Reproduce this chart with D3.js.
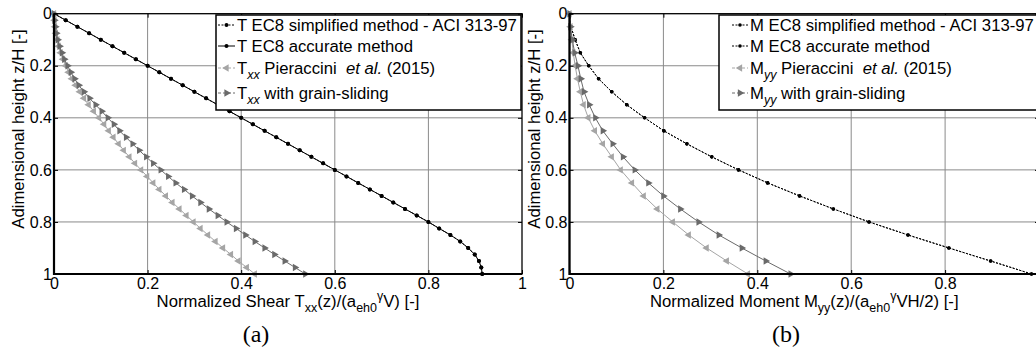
<!DOCTYPE html>
<html>
<head>
<meta charset="utf-8">
<script src="https://cdn.jsdelivr.net/npm/d3@7"></script>
<style>
  body { margin: 0; background: #fff; }
  svg { display: block; font-family: "Liberation Sans", Arial, sans-serif; }
</style>
</head>
<body>
<svg id="chart" width="1036" height="350"></svg>
<script>
// heights z/H, shear panel (markers every 0.025)
const zT = [0, 0.025, 0.05, 0.075, 0.1, 0.125, 0.15, 0.175, 0.2, 0.225, 0.25, 0.275, 0.3, 0.325, 0.35, 0.375,
    0.4, 0.425, 0.45, 0.475, 0.5, 0.525, 0.55, 0.575, 0.6, 0.625, 0.65, 0.675, 0.7, 0.725, 0.75, 0.775,
    0.8, 0.825, 0.85, 0.875, 0.9, 0.925, 0.95, 0.975, 1]

const tSimplified = [0, 0.025, 0.05, 0.075, 0.1, 0.125, 0.15, 0.175, 0.2, 0.225, 0.25, 0.275, 0.3, 0.325, 0.35, 0.375,
    0.4, 0.425, 0.45, 0.475, 0.5, 0.525, 0.55, 0.575, 0.6, 0.625, 0.65, 0.675, 0.7, 0.725, 0.75, 0.775,
    0.8, 0.823, 0.847, 0.868, 0.885, 0.899, 0.908, 0.913, 0.915]
const tAccurate = [0, 0.025, 0.05, 0.075, 0.1, 0.125, 0.15, 0.175, 0.2, 0.225, 0.25, 0.275, 0.3, 0.325, 0.35, 0.375,
    0.4, 0.425, 0.45, 0.475, 0.5, 0.525, 0.55, 0.575, 0.6, 0.625, 0.65, 0.675, 0.7, 0.725, 0.75, 0.775,
    0.8, 0.823, 0.847, 0.868, 0.885, 0.899, 0.908, 0.913, 0.915]
const tPieraccini = [0, 0.001, 0.002, 0.004, 0.007, 0.010, 0.014, 0.019, 0.025, 0.031, 0.038, 0.046, 0.055, 0.064,
    0.074, 0.085, 0.096, 0.107, 0.117, 0.127, 0.138, 0.149, 0.161, 0.173, 0.186, 0.199, 0.212, 0.225, 0.239,
    0.253, 0.268, 0.283, 0.298, 0.313, 0.329, 0.345, 0.361, 0.378, 0.394, 0.412, 0.429]
const tGrain = [0, 0.001, 0.003, 0.005, 0.008, 0.012, 0.017, 0.022, 0.029, 0.036, 0.044, 0.053, 0.064, 0.076,
    0.089, 0.102, 0.115, 0.128, 0.140, 0.154, 0.168, 0.182, 0.197, 0.212, 0.228, 0.244, 0.260, 0.278, 0.295,
    0.313, 0.331, 0.350, 0.369, 0.389, 0.409, 0.429, 0.450, 0.471, 0.493, 0.515, 0.537]

// heights z/H, moment panel (markers every 0.05)
const zM = [0, 0.05, 0.1, 0.15, 0.2, 0.25, 0.3, 0.35, 0.4, 0.45, 0.5, 0.55, 0.6, 0.65, 0.7, 0.75, 0.8, 0.85, 0.9, 0.95, 1]
const mSimplified = [0, 0.003, 0.012, 0.023, 0.041, 0.062, 0.090, 0.122, 0.160, 0.201, 0.250, 0.303, 0.360, 0.422,
    0.490, 0.562, 0.638, 0.721, 0.808, 0.897, 0.984]
const mAccurate = [0, 0.003, 0.012, 0.023, 0.041, 0.062, 0.090, 0.122, 0.160, 0.201, 0.250, 0.303, 0.360, 0.422,
    0.490, 0.562, 0.638, 0.721, 0.808, 0.897, 0.984]
const mPieraccini = [0, 0.002, 0.005, 0.008, 0.012, 0.017, 0.023, 0.030, 0.040, 0.054, 0.071, 0.090, 0.109, 0.133,
    0.158, 0.187, 0.220, 0.254, 0.292, 0.335, 0.380]
const mGrain = [0, 0.002, 0.006, 0.011, 0.018, 0.024, 0.031, 0.042, 0.055, 0.071, 0.092, 0.114, 0.139, 0.168,
    0.200, 0.236, 0.275, 0.318, 0.367, 0.418, 0.471]

const xTicks = [0, 0.2, 0.4, 0.6, 0.8, 1]
const yTicks = [0, 0.2, 0.4, 0.6, 0.8, 1]

const BLACK = '#000'
const LIGHT = '#a5a5a5'
const DARK = '#6a6a6a'
const W = 1036

const svg = d3.select('#chart')

// text with sub/superscripts: kinds n, i, sub, subi, sup
const richText = (parent, parts) => {
    const t = parent.append('text').style('white-space', 'pre')
    let shift = 0
    parts.forEach(([str, kind]) => {
        const level = kind.startsWith('sub') ? 5 : kind === 'sup' ? -7 : 0
        const span = t.append('tspan').text(str).attr('dy', level - shift)
        shift = level
        if (level !== 0) span.attr('font-size', 12.5)
        if (kind.endsWith('i')) span.attr('font-style', 'italic')
    })
    return t
}

const drawMarker = (g, cx, cy, s) => {
    if (s.marker === 'dot') {
        g.append('circle').attr('cx', cx).attr('cy', cy).attr('r', s.r || 2).attr('fill', s.color)
    } else {
        const rot = s.marker === 'left' ? -90 : 90
        g.append('path').attr('d', d3.symbol(d3.symbolTriangle).size(24)())
            .attr('transform', `translate(${cx},${cy}) rotate(${rot})`)
            .attr('fill', s.color)
    }
}

const drawPanel = (p) => {
    const g = svg.append('g')
    const x = d3.scaleLinear().domain([0, 1]).range([p.left, p.right])
    const y = d3.scaleLinear().domain([0, 1]).range([p.top, p.bottom])

    // grid
    g.selectAll('.vgrid').data(xTicks.slice(1, -1)).enter().append('line')
        .attr('x1', d => x(d)).attr('x2', d => x(d)).attr('y1', p.top).attr('y2', p.bottom)
        .attr('stroke', '#8a8a8a').attr('stroke-width', 1)
    g.selectAll('.hgrid').data(yTicks.slice(1, -1)).enter().append('line')
        .attr('y1', d => y(d)).attr('y2', d => y(d)).attr('x1', p.left).attr('x2', p.right)
        .attr('stroke', '#8a8a8a').attr('stroke-width', 1)

    // curves
    const line = d3.line().x(d => x(d[0])).y(d => y(d[1]))
    p.series.forEach(s => {
        const pts = s.values.map((v, i) => [v, p.z[i]])
        g.append('path').datum(pts).attr('d', line)
            .attr('fill', 'none').attr('stroke', s.color).attr('stroke-width', 1)
            .attr('stroke-dasharray', s.dash)
        pts.forEach(d => drawMarker(g, x(d[0]), y(d[1]), s))
    })

    // axes
    const fmt = d => d3.format('~g')(d)
    // labels that fall past the picture's right edge are cut away in the original
    const xfmt = d => x(d) > W - 4 ? '' : fmt(d)
    const styleAxis = a => {
        a.select('.domain').remove()
        a.attr('font-family', null).attr('font-size', 16)
        a.selectAll('line').attr('stroke', BLACK)
        a.selectAll('text').attr('fill', BLACK)
    }
    g.append('g').attr('transform', `translate(0,${p.bottom})`)
        .call(d3.axisBottom(x).tickValues(xTicks).tickFormat(xfmt).tickSizeInner(-4).tickSizeOuter(0).tickPadding(4))
        .call(styleAxis)
    g.append('g').attr('transform', `translate(${p.left},0)`)
        .call(d3.axisLeft(y).tickValues(yTicks).tickFormat(fmt).tickSizeInner(-4).tickSizeOuter(0).tickPadding(2))
        .call(styleAxis)
    g.append('g').attr('transform', `translate(0,${p.top})`)
        .call(d3.axisTop(x).tickValues(xTicks).tickFormat('').tickSizeInner(-4).tickSizeOuter(0))
        .call(styleAxis)
    g.append('g').attr('transform', `translate(${p.right},0)`)
        .call(d3.axisRight(y).tickValues(yTicks).tickFormat('').tickSizeInner(-4).tickSizeOuter(0))
        .call(styleAxis)

    // frame
    g.append('rect').attr('x', p.left).attr('y', p.top)
        .attr('width', p.right - p.left).attr('height', p.bottom - p.top)
        .attr('fill', 'none').attr('stroke', BLACK).attr('stroke-width', 1.3)
    g.append('path').attr('d', `M${p.left},${p.top}V${p.bottom}H${p.right}`)
        .attr('fill', 'none').attr('stroke', BLACK).attr('stroke-width', 2.2)

    // legend
    const L = p.legend
    const lg = g.append('g')
    lg.append('rect').attr('x', L.x).attr('y', L.y).attr('width', L.w).attr('height', L.h)
        .attr('fill', '#fff').attr('stroke', BLACK).attr('stroke-width', 1.5)
    p.series.forEach((s, i) => {
        const ly = L.lineY[i]
        lg.append('line').attr('x1', L.lx0).attr('x2', L.lx1).attr('y1', ly).attr('y2', ly)
            .attr('stroke', s.color).attr('stroke-width', 1).attr('stroke-dasharray', s.legendDash || s.dash)
        drawMarker(lg, (L.lx0 + L.lx1) / 2, ly, s)
        richText(lg, s.label).attr('x', L.tx).attr('y', L.baseY[i]).attr('font-size', 16.7)
    })

    // axis titles
    richText(g, p.xTitle).attr('x', (p.left + p.right) / 2).attr('y', 307)
        .attr('text-anchor', 'middle').attr('font-size', 16.7)
    g.append('text').attr('transform', `translate(${p.left - 30},129) rotate(-90)`)
        .attr('text-anchor', 'middle').attr('font-size', 16.7)
        .text('Adimensional height z/H [-]')

    // panel tag
    g.append('text').attr('x', p.tagX).attr('y', 342).attr('text-anchor', 'middle')
        .attr('font-family', '"Liberation Serif", "Times New Roman", serif').attr('font-size', 24)
        .text(p.tag)
}

drawPanel({
    left: 54, right: 522, top: 13.7, bottom: 274,
    z: zT, tag: '(a)', tagX: 256,
    xTitle: [['Normalized Shear T', 'n'], ['xx', 'sub'], ['(z)/(a', 'n'], ['eh0', 'sub'], ['\u03b3', 'sup'], ['V) [-]', 'n']],
    legend: { x: 216, y: 15, w: 305, h: 95, lx0: 218, lx1: 235, tx: 237,
        lineY: [25, 46, 68, 93], baseY: [31, 52, 74, 99] },
    series: [
        { values: tSimplified, color: BLACK, dash: '2,1.5', marker: 'dot', r: 2,
          label: [['T EC8 simplified method - ACI 313-97', 'n']] },
        { values: tAccurate, color: BLACK, dash: null, marker: 'dot', r: 2,
          label: [['T EC8 accurate method', 'n']] },
        { values: tPieraccini, color: LIGHT, dash: null, legendDash: '3,2', marker: 'left',
          label: [['T', 'n'], ['xx', 'subi'], [' Pieraccini  ', 'n'], ['et al.', 'i'], [' (2015)', 'n']] },
        { values: tGrain, color: DARK, dash: null, legendDash: '3,2', marker: 'right',
          label: [['T', 'n'], ['xx', 'subi'], [' with grain-sliding', 'n']] }
    ]
})

drawPanel({
    left: 569.5, right: 1039, top: 13.7, bottom: 274,
    z: zM, tag: '(b)', tagX: 786,
    xTitle: [['Normalized Moment M', 'n'], ['yy', 'sub'], ['(z)/(a', 'n'], ['eh0', 'sub'], ['\u03b3', 'sup'], ['VH/2) [-]', 'n']],
    legend: { x: 719, y: 15, w: 330, h: 95, lx0: 732, lx1: 748, tx: 750,
        lineY: [25, 46, 68, 93], baseY: [31, 52, 74, 99] },
    series: [
        { values: mSimplified, color: BLACK, dash: '2,1.5', marker: 'dot', r: 1.8,
          label: [['M EC8 simplified method - ACI 313-97', 'n']] },
        { values: mAccurate, color: BLACK, dash: '2,1.5', marker: 'dot', r: 1.8,
          label: [['M EC8 accurate method', 'n']] },
        { values: mPieraccini, color: LIGHT, dash: null, legendDash: '3,2', marker: 'left',
          label: [['M', 'n'], ['yy', 'subi'], [' Pieraccini  ', 'n'], ['et al.', 'i'], [' (2015)', 'n']] },
        { values: mGrain, color: DARK, dash: null, legendDash: '3,2', marker: 'right',
          label: [['M', 'n'], ['yy', 'subi'], [' with grain-sliding', 'n']] }
    ]
})
</script>
</body>
</html>
